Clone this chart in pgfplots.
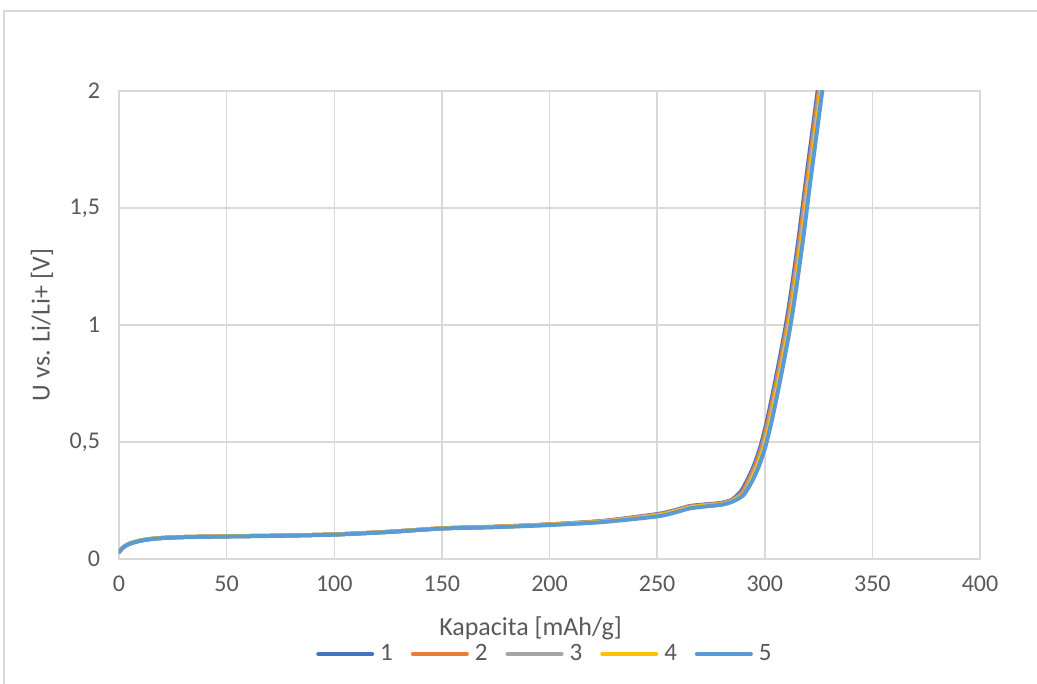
\documentclass[border=0pt]{standalone}
\usepackage{fontspec}
\setmainfont{Carlito}
\usepackage{pgfplots}
\pgfplotsset{compat=1.18}
\definecolor{sA}{HTML}{4472C4}
\definecolor{sB}{HTML}{ED7D31}
\definecolor{sC}{HTML}{A5A5A5}
\definecolor{sD}{HTML}{FFC000}
\definecolor{sE}{HTML}{5B9BD5}
\definecolor{gridc}{HTML}{D9D9D9}
\definecolor{txt}{HTML}{595959}
\begin{document}
\begin{tikzpicture}
\begin{axis}[
    anchor=south west, at={(0,0)},
    scale only axis, width=430.5pt, height=234pt,
    xmin=0, xmax=400, ymin=0, ymax=2,
    xtick={0,50,...,400},
    ytick={0,0.5,1,1.5,2},
    yticklabels={0,{0,5},1,{1,5},2},
    /pgf/number format/assume math mode=true,
    grid=major,
    major grid style={draw=gridc, line width=0.75pt},
    axis line style={draw=gridc, line width=0.75pt},
    major tick length=0pt,
    tick label style={font=\fontsize{12}{14}\selectfont, text=txt},
    xticklabel style={yshift=-5pt},
    yticklabel style={xshift=-6pt},
    xlabel={Kapacita [mAh/g]},
    ylabel={U vs. Li/Li+  [V]},
    label style={font=\fontsize{13}{15}\selectfont, text=txt},
    xlabel style={at={(axis description cs:0.478,0)}, anchor=center, yshift=-34.5pt},
    ylabel style={at={(axis description cs:0,0.5)}, anchor=center, rotate=0, yshift=38.5pt},
    legend columns=-1,
    legend style={at={(axis description cs:0.497,0)}, anchor=center, yshift=-47.5pt,
        draw=none, fill=none, font=\fontsize{12.5}{13}\selectfont, text=txt,
        inner sep=0pt, nodes={inner sep=3pt},
        /tikz/every even column/.append style={column sep=6pt}},
    legend image code/.code={\draw[#1, line width=2pt] (0,0) -- (27pt,0);},
    every axis plot/.append style={line width=2pt, line cap=round, line join=round, smooth, tension=0.4},
]
\addplot[color=sA] coordinates {
(0,0.03)(2,0.05)(5,0.066)(10,0.079)(15,0.086)(20,0.09)(30,0.094)(50,0.097)(75,0.1)(100,0.105)
(125,0.116)(150,0.131)(175,0.138)(200,0.148)(225,0.163)(250,0.192)(258,0.208)(265,0.226)(272,0.233)
(280,0.24)(285,0.255)(289,0.29)(292,0.34)(295,0.4)(298,0.48)(301,0.59)(304,0.72)(307,0.86)
(310,1.01)(313,1.19)(316,1.39)(319,1.61)(322,1.82)(325,2.03)(327,2.17)};
\addplot[color=sB] coordinates {
(0,0.03)(2,0.05)(5,0.066)(10,0.079)(15,0.086)(20,0.09)(30,0.094)(50,0.097)(75,0.1)(100,0.105)
(125,0.116)(150,0.131)(175,0.138)(200,0.148)(225,0.162)(250,0.19)(258,0.206)(265,0.224)(272,0.231)
(280,0.238)(285,0.252)(289.5,0.286)(292.5,0.337)(295.5,0.398)(298.5,0.478)(301.5,0.588)(304.5,0.718)(307.5,0.858)
(310.5,1.008)(313.5,1.188)(316.5,1.388)(319.5,1.608)(322.5,1.818)(325.5,2.028)(327.5,2.168)};
\addplot[color=sC] coordinates {
(0,0.03)(2,0.05)(5,0.066)(10,0.079)(15,0.086)(20,0.09)(30,0.094)(50,0.097)(75,0.1)(100,0.105)
(125,0.116)(150,0.131)(175,0.137)(200,0.147)(225,0.161)(250,0.188)(258,0.204)(265,0.222)(272,0.229)
(280,0.236)(285,0.25)(290,0.282)(293,0.335)(296,0.395)(299,0.475)(302,0.585)(305,0.715)(308,0.855)
(311,1.005)(314,1.185)(317,1.385)(320,1.605)(323,1.815)(326,2.025)(328,2.165)};
\addplot[color=sD] coordinates {
(0,0.03)(2,0.05)(5,0.066)(10,0.079)(15,0.086)(20,0.09)(30,0.094)(50,0.097)(75,0.1)(100,0.105)
(125,0.116)(150,0.131)(175,0.137)(200,0.147)(225,0.16)(250,0.186)(258,0.202)(265,0.22)(272,0.228)
(280,0.234)(285,0.248)(290.5,0.278)(293.5,0.332)(296.5,0.392)(299.5,0.472)(302.5,0.582)(305.5,0.712)(308.5,0.852)
(311.5,1.002)(314.5,1.182)(317.5,1.382)(320.5,1.602)(323.5,1.812)(326.5,2.022)(328.5,2.162)};
\addplot[color=sE] coordinates {
(0,0.03)(2,0.05)(5,0.065)(10,0.078)(15,0.085)(20,0.089)(30,0.093)(50,0.096)(75,0.099)(100,0.104)
(125,0.115)(150,0.13)(175,0.136)(200,0.145)(225,0.158)(250,0.182)(258,0.198)(265,0.216)(272,0.224)
(280,0.232)(285,0.245)(290,0.272)(294,0.33)(297,0.39)(300,0.47)(303,0.58)(306,0.71)(309,0.85)
(312,1.0)(315,1.18)(318,1.38)(321,1.6)(324,1.81)(327,2.02)(329,2.16)};
\legend{1,2,3,4,5}
\end{axis}
\draw[gridc, line width=0.75pt] (-57.5pt,-62.5pt) -- (-57.5pt,274pt) -- (459pt,274pt);
\pgfresetboundingbox
\path[use as bounding box] (-59.5pt,-62.5pt) rectangle (459pt,279.5pt);
\end{tikzpicture}
\end{document}
